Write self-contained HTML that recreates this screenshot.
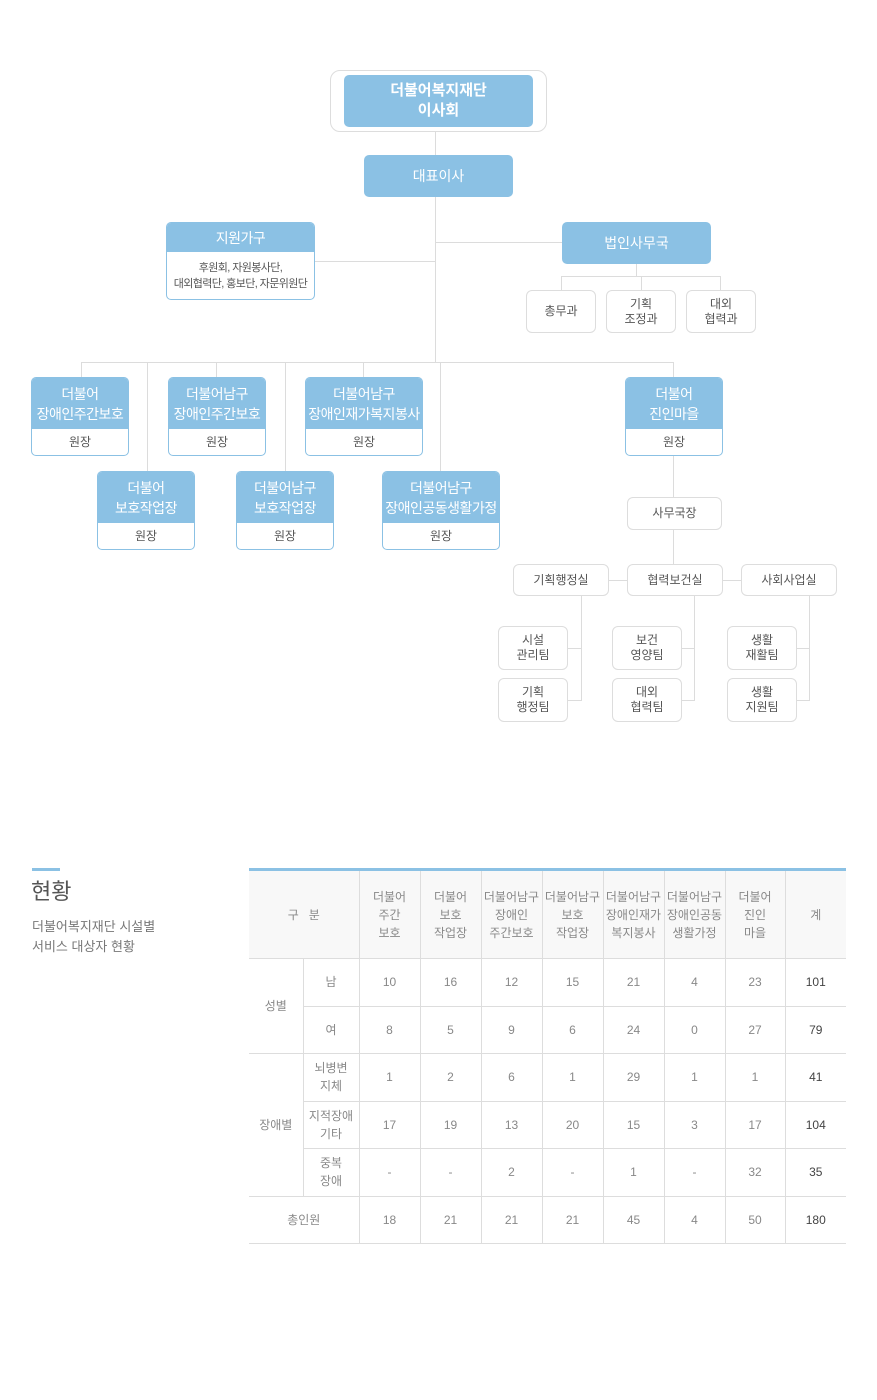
<!DOCTYPE html>
<html><head><meta charset="utf-8"><style>
body{margin:0;background:#fff;font-family:"Liberation Sans","Noto Sans CJK KR",sans-serif;}
#c{position:relative;width:877px;height:1400px;overflow:hidden;}
.a{position:absolute;box-sizing:border-box;}
.l{position:absolute;background:#dcdcdc;}
.blue{background:#8bc1e4;color:#fff;border-radius:5px;display:flex;align-items:center;justify-content:center;text-align:center;font-size:14px;line-height:20px;}
.box{border:1px solid #8bc1e4;border-radius:5px;background:#fff;overflow:hidden;}
.box .h{background:#8bc1e4;color:#fff;display:flex;align-items:center;justify-content:center;text-align:center;font-size:14px;line-height:20px;letter-spacing:-0.5px;}
.box .b{display:flex;align-items:center;justify-content:center;text-align:center;font-size:12px;color:#555;line-height:16px;}
.g{border:1px solid #ddd;border-radius:6px;background:#fff;display:flex;align-items:center;justify-content:center;text-align:center;font-size:12px;color:#555;line-height:15px;}
table{position:absolute;left:249px;top:868px;width:597px;border-collapse:collapse;table-layout:fixed;border-top:3px solid #8bc1e4;}
td{border:1px solid #ddd;text-align:center;font-size:12px;color:#888;padding:0;line-height:18px;}
tr td:first-child{border-left:none;}
tr td:last-child{border-right:none;color:#444;}
thead td{background:#f8f8f8;height:87px;}
tbody td{height:46.5px;}
</style></head><body><div id="c">
<div class="l" style="left:435px;top:131px;width:1px;height:232px"></div>
<div class="l" style="left:315px;top:261px;width:120px;height:1px"></div>
<div class="l" style="left:435px;top:242px;width:127px;height:1px"></div>
<div class="l" style="left:636px;top:264px;width:1px;height:12px"></div>
<div class="l" style="left:561px;top:276px;width:160px;height:1px"></div>
<div class="l" style="left:561px;top:276px;width:1px;height:14px"></div>
<div class="l" style="left:641px;top:276px;width:1px;height:14px"></div>
<div class="l" style="left:720px;top:276px;width:1px;height:14px"></div>
<div class="l" style="left:81px;top:362px;width:593px;height:1px"></div>
<div class="l" style="left:81px;top:362px;width:1px;height:15px"></div>
<div class="l" style="left:216px;top:362px;width:1px;height:15px"></div>
<div class="l" style="left:363px;top:362px;width:1px;height:15px"></div>
<div class="l" style="left:673px;top:362px;width:1px;height:15px"></div>
<div class="l" style="left:147px;top:362px;width:1px;height:109px"></div>
<div class="l" style="left:285px;top:362px;width:1px;height:109px"></div>
<div class="l" style="left:440px;top:362px;width:1px;height:109px"></div>
<div class="l" style="left:673px;top:455px;width:1px;height:42px"></div>
<div class="l" style="left:673px;top:529px;width:1px;height:35px"></div>
<div class="l" style="left:609px;top:580px;width:18px;height:1px"></div>
<div class="l" style="left:723px;top:580px;width:18px;height:1px"></div>
<div class="l" style="left:581px;top:596px;width:1px;height:105px"></div>
<div class="l" style="left:568px;top:648px;width:13px;height:1px"></div>
<div class="l" style="left:568px;top:700px;width:13px;height:1px"></div>
<div class="l" style="left:694px;top:596px;width:1px;height:105px"></div>
<div class="l" style="left:682px;top:648px;width:12px;height:1px"></div>
<div class="l" style="left:682px;top:700px;width:12px;height:1px"></div>
<div class="l" style="left:809px;top:596px;width:1px;height:105px"></div>
<div class="l" style="left:797px;top:648px;width:12px;height:1px"></div>
<div class="l" style="left:797px;top:700px;width:12px;height:1px"></div>

<div class="a" style="left:330px;top:70px;width:217px;height:62px;border:1px solid #ddd;border-radius:10px;background:#fff"></div>
<div class="a blue" style="left:344px;top:75px;width:189px;height:52px;font-weight:bold;font-size:15px">더불어복지재단<br>이사회</div>
<div class="a blue" style="left:364px;top:155px;width:149px;height:42px">대표이사</div>
<div class="a box" style="left:166px;top:222px;width:149px;height:78px"><div class="h" style="height:29px">지원가구</div><div class="b" style="height:47px;font-size:11px;letter-spacing:-0.6px;white-space:nowrap">후원회, 자원봉사단,<br>대외협력단, 홍보단, 자문위원단</div></div>
<div class="a blue" style="left:562px;top:222px;width:149px;height:42px">법인사무국</div>
<div class="a g" style="left:526px;top:290px;width:70px;height:43px">총무과</div>
<div class="a g" style="left:606px;top:290px;width:70px;height:43px">기획<br>조정과</div>
<div class="a g" style="left:686px;top:290px;width:70px;height:43px">대외<br>협력과</div>

<div class="a box" style="left:31px;top:377px;width:98px;height:79px"><div class="h" style="height:51px">더불어<br>장애인주간보호</div><div class="b" style="height:26px">원장</div></div>
<div class="a box" style="left:168px;top:377px;width:98px;height:79px"><div class="h" style="height:51px">더불어남구<br>장애인주간보호</div><div class="b" style="height:26px">원장</div></div>
<div class="a box" style="left:305px;top:377px;width:118px;height:79px"><div class="h" style="height:51px">더불어남구<br>장애인재가복지봉사</div><div class="b" style="height:26px">원장</div></div>
<div class="a box" style="left:625px;top:377px;width:98px;height:79px"><div class="h" style="height:51px">더불어<br>진인마을</div><div class="b" style="height:26px">원장</div></div>
<div class="a box" style="left:97px;top:471px;width:98px;height:79px"><div class="h" style="height:51px">더불어<br>보호작업장</div><div class="b" style="height:26px">원장</div></div>
<div class="a box" style="left:236px;top:471px;width:98px;height:79px"><div class="h" style="height:51px">더불어남구<br>보호작업장</div><div class="b" style="height:26px">원장</div></div>
<div class="a box" style="left:382px;top:471px;width:118px;height:79px"><div class="h" style="height:51px">더불어남구<br>장애인공동생활가정</div><div class="b" style="height:26px">원장</div></div>

<div class="a g" style="left:627px;top:497px;width:95px;height:33px">사무국장</div>
<div class="a g" style="left:513px;top:564px;width:96px;height:32px">기획행정실</div>
<div class="a g" style="left:627px;top:564px;width:96px;height:32px">협력보건실</div>
<div class="a g" style="left:741px;top:564px;width:96px;height:32px">사회사업실</div>
<div class="a g" style="left:498px;top:626px;width:70px;height:44px">시설<br>관리팀</div>
<div class="a g" style="left:498px;top:678px;width:70px;height:44px">기획<br>행정팀</div>
<div class="a g" style="left:612px;top:626px;width:70px;height:44px">보건<br>영양팀</div>
<div class="a g" style="left:612px;top:678px;width:70px;height:44px">대외<br>협력팀</div>
<div class="a g" style="left:727px;top:626px;width:70px;height:44px">생활<br>재활팀</div>
<div class="a g" style="left:727px;top:678px;width:70px;height:44px">생활<br>지원팀</div>

<div class="a" style="left:32px;top:868px;width:28px;height:3px;background:#8bc1e4"></div>
<div class="a" style="left:31px;top:877px;font-size:22px;color:#555;line-height:30px">현황</div>
<div class="a" style="left:32px;top:917px;font-size:13px;color:#777;line-height:20px">더불어복지재단 시설별<br>서비스 대상자 현황</div>

<table>
<colgroup><col style="width:54px"><col style="width:56px"><col style="width:61px"><col style="width:61px"><col style="width:61px"><col style="width:61px"><col style="width:61px"><col style="width:61px"><col style="width:60px"><col style="width:61px"></colgroup>
<thead><tr><td colspan="2">구 &nbsp; 분</td><td>더불어<br>주간<br>보호</td><td>더불어<br>보호<br>작업장</td><td>더불어남구<br>장애인<br>주간보호</td><td>더불어남구<br>보호<br>작업장</td><td>더불어남구<br>장애인재가<br>복지봉사</td><td>더불어남구<br>장애인공동<br>생활가정</td><td>더불어<br>진인<br>마을</td><td style="color:#888">계</td></tr></thead>
<tbody>
<tr><td rowspan="2">성별</td><td>남</td><td>10</td><td>16</td><td>12</td><td>15</td><td>21</td><td>4</td><td>23</td><td>101</td></tr>
<tr><td>여</td><td>8</td><td>5</td><td>9</td><td>6</td><td>24</td><td>0</td><td>27</td><td>79</td></tr>
<tr><td rowspan="3">장애별</td><td>뇌병변<br>지체</td><td>1</td><td>2</td><td>6</td><td>1</td><td>29</td><td>1</td><td>1</td><td>41</td></tr>
<tr><td>지적장애<br>기타</td><td>17</td><td>19</td><td>13</td><td>20</td><td>15</td><td>3</td><td>17</td><td>104</td></tr>
<tr><td>중복<br>장애</td><td>-</td><td>-</td><td>2</td><td>-</td><td>1</td><td>-</td><td>32</td><td>35</td></tr>
<tr><td colspan="2">총인원</td><td>18</td><td>21</td><td>21</td><td>21</td><td>45</td><td>4</td><td>50</td><td>180</td></tr>
</tbody></table>
</div></body></html>
